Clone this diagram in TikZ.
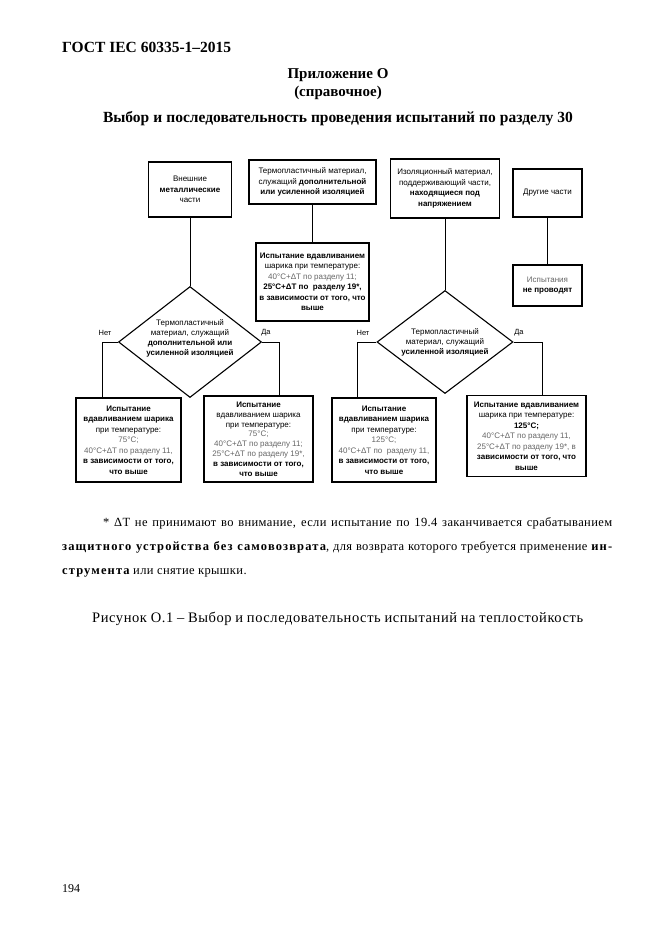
\documentclass[tikz,border=0pt]{standalone}
\usepackage{fontspec}
\setmainfont{Liberation Serif}
\newfontfamily\dsans{Liberation Sans}
\newfontfamily\spserif{Liberation Serif}[LetterSpace=9]
\newfontfamily\lsserif{Liberation Serif}[LetterSpace=3]
\newfontfamily\capserif{Liberation Serif}[LetterSpace=4]
\usetikzlibrary{shapes.geometric}
\colorlet{gtext}{black!60}
\tikzset{
  box/.style={draw, line width=1.1pt, align=center, inner sep=1pt,
    font=\dsans\fontsize{8}{10.5}\selectfont},
  tight/.style={font=\dsans\fontsize{8}{9.8}\selectfont},
  dia/.style={draw, diamond, line width=1.1pt, inner sep=0pt},
  dtext/.style={align=center, inner sep=0pt, font=\dsans\fontsize{8}{10}\selectfont},
  conn/.style={line width=0.9pt},
  yn/.style={inner sep=0pt, font=\dsans\fontsize{7.5}{9}\selectfont},
  txt/.style={inner sep=0pt, anchor=base west},
  ctxt/.style={inner sep=0pt, anchor=base}
}
\begin{document}
\begin{tikzpicture}[x=1pt,y=-1pt]
\useasboundingbox[fill=white] (0,0) rectangle (661,935);

% header and titles
\node[txt, font=\bfseries\fontsize{15.5}{18}\selectfont] (hdr) at (62,52) {ГОСТ IEC 60335-1–2015};
\node[ctxt, font=\bfseries\fontsize{15}{18}\selectfont] (app) at (338,78) {Приложение О};
\node[ctxt, font=\bfseries\fontsize{15}{18}\selectfont] (ref) at (338,96) {(справочное)};
\node[ctxt, font=\bfseries\fontsize{15.5}{18}\selectfont] (ttl) at (338,122) {\makebox[470pt][s]{Выбор и последовательность проведения испытаний по разделу 30}};

% boxes
\node[box, minimum width=83pt, minimum height=55pt] (A) at (190,189.5)
  {Внешние\\ \textbf{металлические}\\ части};
\node[box, minimum width=127pt, minimum height=44pt] (B) at (312.5,182)
  {Термопластичный материал,\\ служащий \textbf{дополнительной}\\ \textbf{или усиленной изоляцией}};
\node[box, minimum width=113pt, minimum height=78pt] (C) at (312.5,282)
  {\textbf{Испытание вдавливанием}\\ шарика при температуре:\\
   \textcolor{gtext}{40°C+ΔT по разделу 11;}\\ \textbf{25°C+ΔT по \ разделу 19*,}\\
   \textbf{в зависимости от того, что}\\ \textbf{выше}};
\node[box, minimum width=109pt, minimum height=59pt] (D) at (445,188.5)
  {Изоляционный материал,\\ поддерживающий части,\\ \textbf{находящиеся под}\\ \textbf{напряжением}};
\node[box, minimum width=69pt, minimum height=48pt] (E) at (547.5,193) {Другие части};
\node[box, minimum width=69pt, minimum height=41pt] (F) at (547.5,285.5)
  {\textcolor{gtext}{Испытания}\\ \textbf{не проводят}};

% decisions
\node[dia, minimum width=143pt, minimum height=111pt] (d1) at (190,342) {};
\node[dtext] (d1t) at (190,338)
  {Термопластичный\\ материал, служащий\\ \textbf{дополнительной или}\\ \textbf{усиленной изоляцией}};
\node[dia, minimum width=136pt, minimum height=103pt] (d2) at (445,342) {};
\node[dtext] (d2t) at (445,342)
  {Термопластичный\\ материал, служащий\\ \textbf{усиленной изоляцией}};

\node[yn] (n1) at (105,333) {Нет};
\node[yn] (y1) at (266,333) {Да};
\node[yn] (n2) at (363,333) {Нет};
\node[yn] (y2) at (519,333) {Да};

% result boxes
\node[box, minimum width=105pt, minimum height=84pt] (G) at (128.5,440)
  {\textbf{Испытание}\\ \textbf{вдавливанием шарика}\\ при температуре:\\ \textcolor{gtext}{75°C;}\\
   \textcolor{gtext}{40°C+ΔT по разделу 11,}\\ \textbf{в зависимости от того,}\\ \textbf{что выше}};
\node[box, tight, minimum width=109pt, minimum height=86pt] (H) at (258.5,439)
  {\textbf{Испытание}\\ вдавливанием шарика\\ при температуре:\\ \textcolor{gtext}{75°C;}\\
   \textcolor{gtext}{40°C+ΔT по разделу 11;}\\ \textcolor{gtext}{25°C+ΔT по разделу 19*,}\\
   \textbf{в зависимости от того,}\\ \textbf{что выше}};
\node[box, minimum width=104pt, minimum height=84pt] (I) at (384,440)
  {\textbf{Испытание}\\ \textbf{вдавливанием шарика}\\ при температуре:\\ \textcolor{gtext}{125°C;}\\
   \textcolor{gtext}{40°C+ΔT по \ разделу 11,}\\ \textbf{в зависимости от того,}\\ \textbf{что выше}};
\node[box, minimum width=119pt, minimum height=81pt] (J) at (526.5,436)
  {\textbf{Испытание вдавливанием}\\ шарика при температуре:\\ \textbf{125°C;}\\
   \textcolor{gtext}{40°C+ΔT по разделу 11,}\\ \textcolor{gtext}{25°C+ΔT по разделу 19*, в}\\
   \textbf{зависимости от того, что}\\ \textbf{выше}};

% connectors
\draw[conn] (A) -- (d1);
\draw[conn] (B) -- (C);
\draw[conn] (D) -- (d2);
\draw[conn] (E) -- (F);
\draw[conn] (d1.west) -| ([xshift=27pt]G.north west);
\draw[conn] (d1.east) -| ([xshift=-34pt]H.north east);
\draw[conn] (d2.west) -| ([xshift=26pt]I.north west);
\draw[conn] (d2.east) -| ([xshift=-44pt]J.north east);

% footnote
\node[txt, font=\lsserif\fontsize{12.5}{15}\selectfont] (fn1) at (103,526)
  {\makebox[509pt][s]{* ΔT не принимают во внимание, если испытание по 19.4 заканчивается срабатыванием}};
\node[txt, font=\lsserif\fontsize{12.5}{15}\selectfont] (fn2) at (62,550)
  {\makebox[550pt][s]{{\spserif\bfseries защитного устройства без самовозврата}, для возврата которого требуется применение {\spserif\bfseries ин-}}};
\node[txt, font=\lsserif\fontsize{12.5}{15}\selectfont] (fn3) at (62,574)
  {{\spserif\bfseries струмента} или снятие крышки.};

% caption
\node[txt, font=\capserif\fontsize{14.5}{18}\selectfont] (cap) at (92,622)
  {\makebox[491pt][s]{Рисунок О.1 – Выбор и последовательность испытаний на теплостойкость}};

% page number
\node[txt, font=\fontsize{12}{14}\selectfont] (pg) at (62,892) {194};
\end{tikzpicture}
\end{document}
